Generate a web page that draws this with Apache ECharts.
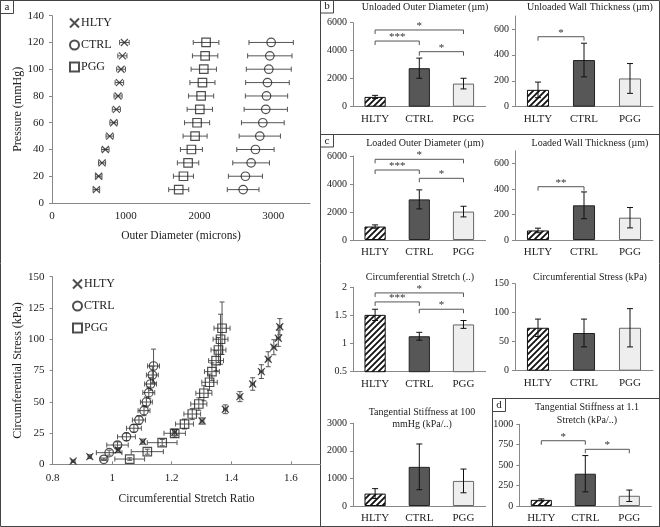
<!DOCTYPE html>
<html><head><meta charset="utf-8">
<script src="https://cdn.jsdelivr.net/npm/echarts/dist/echarts.min.js"></script>
<style>html,body{margin:0;padding:0;background:#fff}#c{width:660px;height:527px}</style>
</head><body><div id="c"></div>
<script>
const FONT = '"Liberation Serif","Times New Roman",serif';

// ---- Panel a (top): pressure vs outer diameter ----
const pressures = [10,20,30,40,50,60,70,80,90,100,110,120];
const odHLTY = [602,633,679,724,783,837,873,896,914,937,955,982];
const odHLTYErr = [45,45,48,50,50,52,55,55,58,60,62,65];
const odCTRL = [2593,2624,2701,2760,2819,2860,2900,2910,2923,2941,2955,2973];
const odCTRLErr = [215,231,249,253,280,290,294,287,296,305,301,301];
const odPGG = [1719,1783,1846,1891,1941,1968,2005,2023,2041,2059,2077,2090];
const odPGGErr = [136,136,145,149,163,170,172,170,170,172,172,174];

// ---- Panel a (bottom): stress vs stretch ----
const srHLTY = [0.869,0.925,1.020,1.103,1.210,1.302,1.380,1.429,1.472,1.501,1.524,1.543,1.558,1.563];
const srHLTYErr = [0.006,0.006,0.006,0.006,0.006,0.006,0.006,0.006,0.006,0.006,0.006,0.006,0.006,0.006];
const csHLTY = [2.5,6.1,11.4,18.1,25.6,34.6,44,54.1,64.2,74.1,84,93.6,100.8,110];
const csHLTYErr = [1,1.5,2,2,2.5,2.5,3.5,4,5,5.5,6,6,6.5,6.5];
const srCTRL = [0.972,0.990,1.018,1.048,1.073,1.090,1.107,1.115,1.123,1.129,1.135,1.139];
const srCTRLErr = [0.01,0.043,0.036,0.03,0.025,0.022,0.02,0.02,0.02,0.02,0.02,0.02];
const csCTRL = [4,9.3,15.4,22,28.8,35.4,42.9,49.8,57.3,64.2,71.4,78.6];
const csCTRLErr = [1,2,2.5,3,3,3.5,4,4,4.5,5,7,13.5];
const srPGG = [1.059,1.118,1.168,1.210,1.243,1.269,1.291,1.308,1.327,1.335,1.349,1.357,1.364,1.369];
const srPGGErr = [0.05,0.054,0.05,0.036,0.03,0.028,0.027,0.027,0.026,0.025,0.025,0.025,0.025,0.027];
const csPGG = [4.2,10.1,17.3,24.8,32.2,40.2,48.2,56.8,65.6,74.1,82.9,91.4,100,108.8];
const csPGGErr = [1,2,2.5,3,4,4.5,5,6,6.5,7,8,10,20,21];

// ---- Bar panels ----
const groups = ['HLTY','CTRL','PGG'];
const unloadedOD = [700,2750,1650];
const unloadedODErr = [110,720,380];
const unloadedODSig = [[0,1,4690,'***'],[1,2,3930,'*'],[0,2,5480,'*']];
const unloadedWT = [130,360,218];
const unloadedWTErr = [60,130,115];
const unloadedWTSig = [[0,1,540,'*']];
const loadedOD = [960,2900,2030];
const loadedODErr = [120,680,380];
const loadedODSig = [[0,1,5000,'***'],[1,2,4407,'*'],[0,2,5764,'*']];
const loadedWT = [75,272,175];
const loadedWTErr = [18,105,80];
const loadedWTSig = [[0,1,418,'**']];
const stretchVals = [1.51,1.13,1.34];
const stretchErr = [0.1,0.07,0.07];
const stretchSig = [[0,1,1.74,'***'],[1,2,1.61,'*'],[0,2,1.90,'*']];
const stressVals = [74,65,74];
const stressErr = [15,24,33];
const stressSig = [];
const stiff100 = [450,1420,910];
const stiff100Err = [180,830,430];
const stiff100Sig = [];
const stiff11 = [75,395,125];
const stiff11Err = [12,222,70];
const stiff11Sig = [[0,1,799,'*'],[1,2,694,'*']];

// hatch pattern
function hatch(){
  const c=document.createElement('canvas'); c.width=6; c.height=6;
  const g=c.getContext('2d'); g.fillStyle='#fff'; g.fillRect(0,0,6,6);
  g.strokeStyle='#111'; g.lineWidth=1.8; g.beginPath();
  g.moveTo(0,6); g.lineTo(6,0); g.moveTo(-3,3); g.lineTo(3,-3); g.moveTo(3,9); g.lineTo(9,3);
  g.stroke(); return c;
}
const barStyles = [
  {color:{image:hatch(),repeat:'repeat'},borderColor:'#111',borderWidth:1},
  {color:'#575757',borderColor:'#222',borderWidth:1},
  {color:'#eeeeee',borderColor:'#666',borderWidth:1}
];

const grids=[], xAxes=[], yAxes=[], series=[], titles=[];
const axisCol = '#888';
const labelStyle = {color:'#222',fontFamily:FONT};
const plain = v => String(+v.toFixed(6));

function errRender(params, api){
  const x=api.value(0), y=api.value(1), ex=api.value(2), ey=api.value(3);
  const st={stroke:'#555',lineWidth:1}; const cap=2.5; const ch=[];
  if(ex>0){
    const a=api.coord([x-ex,y]), b=api.coord([x+ex,y]);
    ch.push({type:'line',shape:{x1:a[0],y1:a[1],x2:b[0],y2:b[1]},style:st});
    ch.push({type:'line',shape:{x1:a[0],y1:a[1]-cap,x2:a[0],y2:a[1]+cap},style:st});
    ch.push({type:'line',shape:{x1:b[0],y1:b[1]-cap,x2:b[0],y2:b[1]+cap},style:st});
  }
  if(ey>0){
    const a=api.coord([x,y-ey]), b=api.coord([x,y+ey]);
    ch.push({type:'line',shape:{x1:a[0],y1:a[1],x2:b[0],y2:b[1]},style:st});
    ch.push({type:'line',shape:{x1:a[0]-cap,y1:a[1],x2:a[0]+cap,y2:a[1]},style:st});
    ch.push({type:'line',shape:{x1:b[0]-cap,y1:b[1],x2:b[0]+cap,y2:b[1]},style:st});
  }
  return {type:'group',children:ch};
}

const symCross='path://M0,0L10,10M10,0L0,10';
const markerDefs = {
  HLTY:{symbol:symCross,symbolSize:7},
  CTRL:{symbol:'circle',symbolSize:8.5},
  PGG:{symbol:'rect',symbolSize:8.5}
};
function scatterGroup(gi, name, xs, ys, exs, eys){
  series.push({type:'custom',xAxisIndex:gi,yAxisIndex:gi,renderItem:errRender,silent:true,
    data:xs.map((v,i)=>[v,ys[i],exs?exs[i]:0,eys?eys[i]:0]),z:2});
  series.push({type:'scatter',name,xAxisIndex:gi,yAxisIndex:gi,symbol:markerDefs[name].symbol,
    symbolSize:markerDefs[name].symbolSize,
    itemStyle:{color:'rgba(255,255,255,0)',borderColor:'#222',borderWidth:1.2},
    data:xs.map((v,i)=>[v,ys[i]]),z:3});
}

// grid 0: top scatter
grids.push({left:52,top:15.7,width:258,height:187.3});
xAxes.push({type:'value',gridIndex:0,min:0,max:3500,interval:1000,name:'Outer Diameter (microns)',
  nameLocation:'middle',nameGap:27,nameTextStyle:{fontSize:11.5,...labelStyle},
  splitLine:{show:false},axisLine:{lineStyle:{color:axisCol}},axisTick:{show:false},
  axisLabel:{fontSize:11,margin:8,showMaxLabel:false,formatter:plain,...labelStyle}});
yAxes.push({type:'value',gridIndex:0,min:0,max:140,interval:20,name:'Pressure (mmHg)',
  nameLocation:'middle',nameGap:28,nameTextStyle:{fontSize:12,...labelStyle},
  splitLine:{show:false},axisLine:{show:true,lineStyle:{color:axisCol}},axisTick:{show:true,length:3,lineStyle:{color:axisCol}},
  axisLabel:{fontSize:11,margin:8,formatter:plain,...labelStyle}});
scatterGroup(0,'HLTY',odHLTY,pressures,odHLTYErr,null);
scatterGroup(0,'CTRL',odCTRL,pressures,odCTRLErr,null);
scatterGroup(0,'PGG',odPGG,pressures,odPGGErr,null);

// grid 1: bottom scatter
grids.push({left:52.6,top:276.7,width:268,height:187.6});
xAxes.push({type:'value',gridIndex:1,min:0.8,max:1.7,interval:0.2,name:'Circumferential Stretch Ratio',
  nameLocation:'middle',nameGap:29,nameTextStyle:{fontSize:11.5,...labelStyle},
  splitLine:{show:false},axisLine:{lineStyle:{color:axisCol}},axisTick:{show:true,inside:true,length:3,lineStyle:{color:axisCol}},
  axisLabel:{fontSize:11,margin:8,showMaxLabel:false,formatter:plain,...labelStyle}});
yAxes.push({type:'value',gridIndex:1,min:0,max:150,interval:25,name:'Circumferential Stress (kPa)',
  nameLocation:'middle',nameGap:28,nameTextStyle:{fontSize:12,...labelStyle},
  splitLine:{show:false},axisLine:{show:true,lineStyle:{color:axisCol}},axisTick:{show:true,length:3,lineStyle:{color:axisCol}},
  axisLabel:{fontSize:11,margin:8,formatter:plain,...labelStyle}});
scatterGroup(1,'HLTY',srHLTY,csHLTY,srHLTYErr,csHLTYErr);
scatterGroup(1,'CTRL',srCTRL,csCTRL,srCTRLErr,csCTRLErr);
scatterGroup(1,'PGG',srPGG,csPGG,srPGGErr,csPGGErr);

// bar charts
function barErrRender(params, api){
  const i=api.value(0), v=api.value(1), e=api.value(2);
  const a=api.coord([i,v-e]), b=api.coord([i,v+e]); const cap=3;
  const st={stroke:'#111',lineWidth:1};
  return {type:'group',children:[
    {type:'line',shape:{x1:a[0],y1:a[1],x2:b[0],y2:b[1]},style:st},
    {type:'line',shape:{x1:a[0]-cap,y1:a[1],x2:a[0]+cap,y2:a[1]},style:st},
    {type:'line',shape:{x1:b[0]-cap,y1:b[1],x2:b[0]+cap,y2:b[1]},style:st}
  ]};
}
function makeSigRender(sig){
  return function(params, api){
    const i1=api.value(0), i2=api.value(1), y=api.value(2);
    const p1=api.coord([i1,y]), p2=api.coord([i2,y]); const leg=4;
    return {type:'group',children:[
      {type:'polyline',shape:{points:[[p1[0],p1[1]+leg],[p1[0],p1[1]],[p2[0],p2[1]],[p2[0],p2[1]+leg]]},style:{stroke:'#555',lineWidth:1,fill:null}},
      {type:'text',style:{text:sig[params.dataIndex][3],x:(p1[0]+p2[0])/2,y:p1[1]+1.5,align:'center',verticalAlign:'bottom',textAlign:'center',textVerticalAlign:'bottom',fontSize:11,fontFamily:FONT,fill:'#333'}}
    ]};
  };
}
const barCharts = [
  {grid:{left:353,top:22.7,width:132.6,height:84},min:0,max:6000,interval:2000,vals:unloadedOD,errs:unloadedODErr,sig:unloadedODSig,title:'Unloaded Outer Diameter (µm)',tx:425,ty:1.5},
  {grid:{left:515,top:16,width:138,height:90.7},min:0,max:700,interval:200,vals:unloadedWT,errs:unloadedWTErr,sig:unloadedWTSig,title:'Unloaded Wall Thickness (µm)',tx:590,ty:1.5},
  {grid:{left:353,top:156,width:132.6,height:84},min:0,max:6000,interval:2000,vals:loadedOD,errs:loadedODErr,sig:loadedODSig,title:'Loaded Outer Diameter (µm)',tx:425,ty:137},
  {grid:{left:515,top:150.75,width:138,height:89.25},min:0,max:700,interval:200,vals:loadedWT,errs:loadedWTErr,sig:loadedWTSig,title:'Loaded Wall Thickness (µm)',tx:590,ty:137},
  {grid:{left:353,top:287.3,width:132.6,height:84.4},min:0.5,max:2,interval:0.5,vals:stretchVals,errs:stretchErr,sig:stretchSig,title:'Circumferential Stretch (..)',tx:420,ty:270.7},
  {grid:{left:515,top:283.7,width:138,height:87},min:0,max:150,interval:50,vals:stressVals,errs:stressErr,sig:stressSig,title:'Circumferential Stress (kPa)',tx:590,ty:270.7},
  {grid:{left:353,top:423.3,width:132.6,height:82.7},min:0,max:3000,interval:1000,vals:stiff100,errs:stiff100Err,sig:stiff100Sig,title:'Tangential Stiffness at 100\nmmHg (kPa/..)',tx:422,ty:405.7},
  {grid:{left:519.3,top:424.3,width:132,height:81.7},min:0,max:1000,interval:250,vals:stiff11,errs:stiff11Err,sig:stiff11Sig,title:'Tangential Stiffness at 1.1\nStretch (kPa/..)',tx:587,ty:401.3}
];
barCharts.forEach((bc,k)=>{
  const gi=grids.length;
  grids.push(bc.grid);
  xAxes.push({type:'category',gridIndex:gi,data:groups,axisLine:{lineStyle:{color:axisCol}},axisTick:{show:false},
    axisLabel:{fontSize:11,margin:7,...labelStyle}});
  yAxes.push({type:'value',gridIndex:gi,min:bc.min,max:bc.max,interval:bc.interval,splitLine:{show:false},
    axisLine:{show:true,lineStyle:{color:axisCol}},axisTick:{show:true,length:3,lineStyle:{color:axisCol}},
    axisLabel:{fontSize:10,margin:6,formatter:plain,showMaxLabel:Math.abs(((bc.max-bc.min)/bc.interval)%1)<1e-9,...labelStyle}});
  series.push({type:'bar',xAxisIndex:gi,yAxisIndex:gi,barWidth:'48%',
    data:bc.vals.map((v,i)=>({value:v,itemStyle:barStyles[i]})),z:2});
  series.push({type:'custom',xAxisIndex:gi,yAxisIndex:gi,renderItem:barErrRender,silent:true,
    data:bc.vals.map((v,i)=>[i,v,bc.errs[i]]),z:3});
  if(bc.sig.length){
    series.push({type:'custom',xAxisIndex:gi,yAxisIndex:gi,renderItem:makeSigRender(bc.sig),silent:true,
      data:bc.sig.map(s=>[s[0],s[1],s[2]]),z:3});
  }
  titles.push({text:bc.title,left:bc.tx,top:bc.ty,textAlign:'center',padding:0,
    textStyle:{fontSize:10,fontWeight:'normal',lineHeight:12.5,...labelStyle}});
});

// panel letters
[['a',7,1],['b',327,0.5],['c',327,135],['d',499,399.5]].forEach(p=>{
  titles.push({text:p[0],left:p[1],top:p[2],textAlign:'center',padding:0,textStyle:{fontSize:11,fontWeight:'normal',lineHeight:12,...labelStyle}});
});

const bc='#444';
const graphic=[
  {type:'rect',shape:{x:0.5,y:0.5,width:659,height:526},style:{fill:null,stroke:bc,lineWidth:1},silent:true},
  {type:'line',shape:{x1:320.5,y1:0,x2:320.5,y2:527},style:{stroke:bc,lineWidth:1},silent:true},
  {type:'line',shape:{x1:320,y1:134.5,x2:660,y2:134.5},style:{stroke:bc,lineWidth:1},silent:true},
  {type:'rect',shape:{x:492.5,y:398.5,width:167,height:128},style:{fill:null,stroke:bc,lineWidth:1},silent:true},
  {type:'rect',shape:{x:0.5,y:0.5,width:13,height:13},style:{fill:null,stroke:bc,lineWidth:1},silent:true},
  {type:'rect',shape:{x:320.5,y:0.5,width:13,height:12.5},style:{fill:null,stroke:bc,lineWidth:1},silent:true},
  {type:'rect',shape:{x:320.5,y:134.5,width:13,height:12.5},style:{fill:null,stroke:bc,lineWidth:1},silent:true},
  {type:'rect',shape:{x:492.5,y:398.5,width:13,height:13},style:{fill:null,stroke:bc,lineWidth:1},silent:true}
];

const legendBase = {orient:'vertical',itemWidth:9,itemHeight:9,itemGap:10,data:['HLTY','CTRL','PGG'],
  textStyle:{fontSize:12,padding:[0,0,0,-3],...labelStyle},selectedMode:false,padding:0};

const chart=echarts.init(document.getElementById('c'),null,{renderer:'canvas'});
chart.setOption({
  animation:false,
  backgroundColor:'#fff',
  title:titles,
  grid:grids,xAxis:xAxes,yAxis:yAxes,series,
  legend:[Object.assign({left:69,top:17},legendBase),Object.assign({left:72,top:278},legendBase)],
  graphic
});
</script></body></html>
